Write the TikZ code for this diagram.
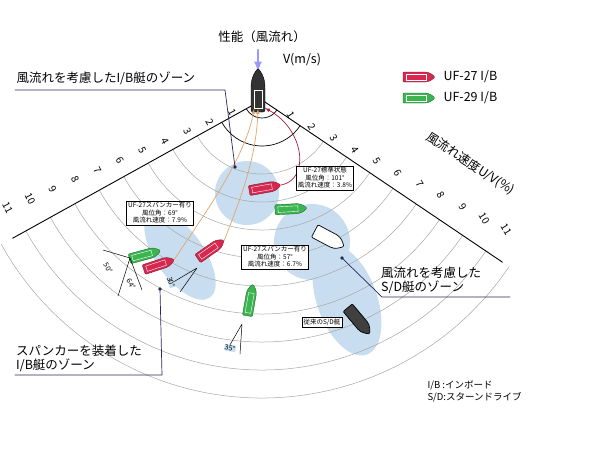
\documentclass[tikz,border=0pt]{standalone}
\usepackage{fontspec}
\setmainfont{Noto Sans CJK JP}
\usetikzlibrary{calc}
\definecolor{zone}{RGB}{200,222,240}
\definecolor{redboat}{RGB}{215,40,80}
\definecolor{greenboat}{RGB}{60,180,80}
\definecolor{orangeline}{RGB}{225,165,105}
\definecolor{navy}{RGB}{40,40,90}
\begin{document}
\begin{tikzpicture}[x=1pt,y=-1pt,line cap=round]
	\tikzstyle{ring}=[gray!70,line width=0.5pt];
	\tikzstyle{zonefill}=[fill=zone,draw=none];
	\tikzstyle{infobox}=[draw,fill=white,font=\fontsize{6.5}{7.5}\selectfont,align=center,inner sep=1.5pt,line width=0.6pt];
	\tikzstyle{title}=[font=\fontsize{12.5}{14}\selectfont,align=left];
	\tikzstyle{pointer}=[navy,line width=0.7pt];
	\tikzstyle{wedge}=[line width=0.5pt];
	\tikzstyle{deg}=[font=\fontsize{7}{7}\selectfont,inner sep=0.5pt];
	\tikzset{boat/.pic={
		\draw[fill=\boatcol,draw=\boatcol!60!black,line width=0.4pt,rounded corners=1pt]
			(-15,-5) -- (6,-5) .. controls (12,-5) and (16,-1) .. (17,0)
			.. controls (16,1) and (12,5) .. (6,5) -- (-15,5) -- cycle;
		\draw[white,line width=0.4pt] (-12,-2.8) rectangle (8,2.8);}}
	\useasboundingbox (0,0) rectangle (600,459);
	\coordinate (c) at (262,100);
	% zones
	\fill[zonefill] (247,193) circle (32);
	\fill[zonefill,rotate around={-55:(180,255)}] (180,255) ellipse (52 and 24);
	\fill[zonefill] (312,242) circle (38);
	\fill[zonefill,rotate around={-70:(347,300)}] (347,300) ellipse (58 and 30);
	% rings and edges
	\foreach \k in {3,...,11}
		\draw[ring] ([shift={(34:18+28*\k-28)}]c) arc (34:151:18+28*\k-28);
	\foreach \k in {1,2}
		\draw[line width=0.7pt] ([shift={(34:18+28*\k-28)}]c) arc (34:151:18+28*\k-28);
	\draw[line width=0.9pt] (c) -- ++(151:285);
	\draw[line width=0.9pt] (c) -- ++(34:290);
	\foreach \k in {1,...,11} {
		\node[rotate=-62,font=\fontsize{10}{10}\selectfont] at ($(c)+(157:8+24.4*\k)$) {\k};
		\node[rotate=-58,font=\fontsize{10}{10}\selectfont] at ($(c)+(28:8+24.4*\k)$) {\k};
	}
	% top
	\node[title] (perf) at (262,37) {性能（風流れ）};
	\draw[-latex,line width=2.5pt,blue!40] (258,50) -- (258,72);
	\node[title] (vel) at (302,60) {V(m/s)};
	\node[title,rotate=-33] (speed) at ($(c)+(17:218)$) {風流れ速度U/V(\%)};
	% main boat
	\draw[fill=black!80,rounded corners=2pt] (251,112) -- (251,86) .. controls (252,75) and (256,71) .. (258,68)
		.. controls (260,71) and (264,75) .. (265,86) -- (265,112) -- cycle;
	\draw[white,line width=0.5pt] (254,90) rectangle (262,108);
	% legend
	\def\boatcol{redboat}\pic at (418,77) {boat};
	\node[title,anchor=west] (leg1) at (440,77) {UF-27 I/B};
	\def\boatcol{greenboat}\pic at (418,98) {boat};
	\node[title,anchor=west] (leg2) at (440,98) {UF-29 I/B};
	% test boats
	\def\boatcol{redboat}
	\pic[rotate=10] at (264,188) {boat};
	\pic[rotate=35] at (210,250) {boat};
	\pic[rotate=18] at (158,265) {boat};
	\def\boatcol{greenboat}
	\pic[rotate=3] at (290,209) {boat};
	\pic[rotate=15] at (144,255) {boat};
	\pic[rotate=80] at (250,301) {boat};
	% S/D boats
	\draw[fill=white,line width=0.7pt,rotate around={-28:(328,238)},rounded corners=1pt]
		(313,231) -- (333,231) .. controls (340,231) and (344,236) .. (346,238)
		.. controls (344,240) and (340,245) .. (333,245) -- (313,245) -- cycle;
	\draw[fill=black!75,line width=0.7pt,rotate around={-50:(358,320)},rounded corners=1pt]
		(342,314) -- (364,314) .. controls (370,314) and (374,318) .. (376,320)
		.. controls (374,322) and (370,326) .. (364,326) -- (342,326) -- cycle;
	% arrows
	\coordinate (top1) at (265,108);
	\coordinate (top2) at (254,109);
	\coordinate (top3) at (258,109);
	\coordinate (r1) at (281,185);
	\coordinate (r2) at (224,241);
	\coordinate (r3) at (174,260);
	\draw[-latex,redboat!80!black,line width=0.7pt] (r1) .. controls (310,180) and (305,130) .. (top1);
	\draw[-latex,orangeline,line width=0.7pt] (r3) .. controls (200,220) and (245,160) .. (top2);
	\draw[-latex,orangeline,line width=0.7pt] (r2) .. controls (240,200) and (256,160) .. (top3);
	% info boxes
	\node[infobox] (std) at (325,178) {UF-27標準状態\\風位角：101°\\風流れ速度：3.8\%};
	\node[infobox] (sp1) at (160,213) {UF-27スパンカー有り\\風位角：69°\\風流れ速度：7.9\%};
	\node[infobox] (sp2) at (275,257) {UF-27スパンカー有り\\風位角：57°\\風流れ速度：6.7\%};
	\node[infobox] (sd) at (322,322) {従来のS/D艇};
	% wedges
	\coordinate (w1) at (130,258);
	\draw[wedge] (w1) -- (103,250) (w1) -- (118,296) (w1) -- (142,290);
	\node[deg,rotate=-60] (a50) at (108,268) {50°};
	\node[deg,rotate=-60] (a64) at (131,284) {64°};
	\coordinate (w2) at (197,268);
	\draw[wedge] (w2) -- (170,284) (w2) -- (180,292);
	\node[deg,rotate=-70,fill=zone] (a30) at (171,282) {30°};
	\coordinate (w3) at (242,324);
	\draw[wedge] (w3) -- (227,350) (w3) -- (240,354);
	\node[deg,fill=zone,rotate=-10] (a35) at (230,348) {35°};
	% zone labels
	\node[title,anchor=south west] (lab1) at (13,88) {風流れを考慮したI/B艇のゾーン};
	\fill[navy] (235,167) circle (1.8) coordinate (d1);
	\draw[pointer] (15,90) -- (225,90) -- (d1);
	\node[title,anchor=south west,inner sep=1pt,align=left] (lab2) at (15,373) {スパンカーを装着した\\I/B艇のゾーン};
	\fill[navy] (160,289) circle (1.8) coordinate (d2);
	\draw[pointer] (d2) -- (162,375) -- (15,375);
	\node[title,anchor=south west,inner sep=1pt,align=left] (lab3) at (380,295) {風流れを考慮した\\S/D艇のゾーン};
	\fill[navy] (342,258) circle (1.8) coordinate (d3);
	\draw[pointer] (d3) -- (382,297) -- (510,297);
	% notes
	\node[font=\fontsize{9.5}{12}\selectfont,anchor=west,align=left] (note) at (424,391) {I/B :インボード\\S/D:スターンドライブ};
\end{tikzpicture}
\end{document}
